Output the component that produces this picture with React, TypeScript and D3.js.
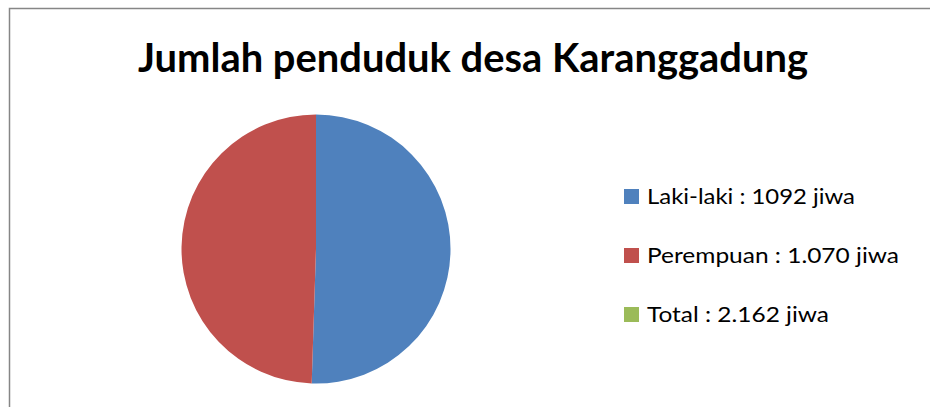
import React from "react";
import * as d3 from "d3";

const categories = ["Laki-laki", "Perempuan", "Total"];
const values = [1092, 1070, 0];
const legendLabels = ["Laki-laki : 1092 jiwa", "Perempuan : 1.070 jiwa", "Total : 2.162 jiwa"];
const colors = ["#4F81BD", "#C0504D", "#9BBB59"];
const title = "Jumlah penduduk desa Karanggadung";

export default function App() {
  const W = 930, H = 407;
  const cx = 316, cy = 249, r = 134.5;
  const data = categories.map((c, i) => ({ c, v: values[i], color: colors[i] }));
  const pie = d3.pie<any>().sort(null).value((d) => d.v);
  const arc = d3.arc<any>().innerRadius(0).outerRadius(r);
  const arcs = pie(data);
  const legendY = d3.scalePoint<string>().domain(categories).range([196.5, 314.5]);
  const legendW = [208, 252, 182];
  return (
    <svg width={W} height={H} style={{ position: "absolute", left: 0, top: 0 }}>
      <rect x={0} y={0} width={W} height={H} fill="#fff" />
      <rect x={9.5} y={8.5} width={W + 20} height={H + 20} fill="none" stroke="#868686" strokeWidth={1.5} />
      <text x={473} y={72} textAnchor="middle" fontFamily="Lato, 'Open Sans', sans-serif" fontWeight={700} fontSize={40}
        textLength={670} lengthAdjust="spacingAndGlyphs" fill="#000">{title}</text>
      <g transform={`translate(${cx},${cy})`}>
        {arcs.map((a, i) => (
          <path key={i} d={arc(a) || ""} fill={a.data.color} />
        ))}
      </g>
      {categories.map((c, i) => {
        const y = legendY(c)!;
        return (
          <g key={c}>
            <rect x={624} y={y - 7.5} width={15} height={15} fill={colors[i]} />
            <text x={647} y={y + 7.5} fontFamily="Lato, 'Open Sans', sans-serif" fontSize={21.5} fill="#000"
              textLength={legendW[i]} lengthAdjust="spacingAndGlyphs">{legendLabels[i]}</text>
          </g>
        );
      })}
    </svg>
  );
}
